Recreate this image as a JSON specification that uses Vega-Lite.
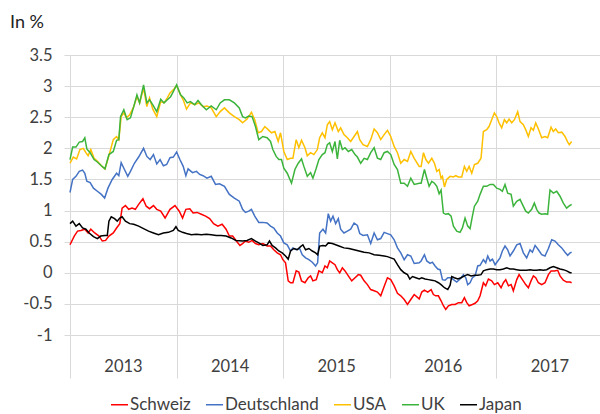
{
"$schema":"https://vega.github.io/schema/vega-lite/v6.json",
"width":530,"height":280,
"autosize":"none",
"padding":{"left":70,"top":55,"right":0,"bottom":79},
"config":{"font":"Lato","view":{"stroke":null}},
"title":{"text":"In %","anchor":"start","frame":"group","dx":-60,"offset":15,"fontSize":18,"fontWeight":"normal","font":"Lato","color":"#222222"},
"data":{"values":[
{"c":"Schweiz","t":2013.000,"v":0.45},{"c":"Schweiz","t":2013.040,"v":0.59},{"c":"Schweiz","t":2013.071,"v":0.67},{"c":"Schweiz","t":2013.102,"v":0.68},{"c":"Schweiz","t":2013.139,"v":0.70},{"c":"Schweiz","t":2013.170,"v":0.64},{"c":"Schweiz","t":2013.195,"v":0.70},{"c":"Schweiz","t":2013.232,"v":0.64},{"c":"Schweiz","t":2013.272,"v":0.59},{"c":"Schweiz","t":2013.303,"v":0.51},{"c":"Schweiz","t":2013.334,"v":0.52},{"c":"Schweiz","t":2013.365,"v":0.59},{"c":"Schweiz","t":2013.406,"v":0.64},{"c":"Schweiz","t":2013.437,"v":0.72},{"c":"Schweiz","t":2013.467,"v":0.79},{"c":"Schweiz","t":2013.489,"v":1.04},{"c":"Schweiz","t":2013.520,"v":1.08},{"c":"Schweiz","t":2013.551,"v":1.02},{"c":"Schweiz","t":2013.582,"v":1.04},{"c":"Schweiz","t":2013.613,"v":1.02},{"c":"Schweiz","t":2013.644,"v":1.10},{"c":"Schweiz","t":2013.684,"v":1.19},{"c":"Schweiz","t":2013.715,"v":1.07},{"c":"Schweiz","t":2013.746,"v":1.03},{"c":"Schweiz","t":2013.783,"v":1.08},{"c":"Schweiz","t":2013.814,"v":1.02},{"c":"Schweiz","t":2013.851,"v":0.99},{"c":"Schweiz","t":2013.892,"v":0.88},{"c":"Schweiz","t":2013.938,"v":1.02},{"c":"Schweiz","t":2013.985,"v":1.08},{"c":"Schweiz","t":2014.025,"v":0.99},{"c":"Schweiz","t":2014.056,"v":0.88},{"c":"Schweiz","t":2014.087,"v":1.02},{"c":"Schweiz","t":2014.124,"v":1.03},{"c":"Schweiz","t":2014.155,"v":0.96},{"c":"Schweiz","t":2014.192,"v":0.97},{"c":"Schweiz","t":2014.232,"v":0.94},{"c":"Schweiz","t":2014.272,"v":0.91},{"c":"Schweiz","t":2014.310,"v":0.87},{"c":"Schweiz","t":2014.347,"v":0.79},{"c":"Schweiz","t":2014.387,"v":0.75},{"c":"Schweiz","t":2014.427,"v":0.78},{"c":"Schweiz","t":2014.464,"v":0.70},{"c":"Schweiz","t":2014.495,"v":0.59},{"c":"Schweiz","t":2014.526,"v":0.59},{"c":"Schweiz","t":2014.557,"v":0.52},{"c":"Schweiz","t":2014.594,"v":0.44},{"c":"Schweiz","t":2014.619,"v":0.47},
{"c":"Schweiz","t":2014.646,"v":0.51},{"c":"Schweiz","t":2014.677,"v":0.49},{"c":"Schweiz","t":2014.708,"v":0.52},{"c":"Schweiz","t":2014.740,"v":0.47},{"c":"Schweiz","t":2014.771,"v":0.45},{"c":"Schweiz","t":2014.809,"v":0.47},{"c":"Schweiz","t":2014.849,"v":0.43},{"c":"Schweiz","t":2014.881,"v":0.43},{"c":"Schweiz","t":2014.912,"v":0.37},{"c":"Schweiz","t":2014.944,"v":0.32},{"c":"Schweiz","t":2014.975,"v":0.29},{"c":"Schweiz","t":2014.997,"v":0.21},{"c":"Schweiz","t":2015.022,"v":0.16},{"c":"Schweiz","t":2015.047,"v":-0.13},{"c":"Schweiz","t":2015.069,"v":-0.16},{"c":"Schweiz","t":2015.091,"v":-0.16},{"c":"Schweiz","t":2015.122,"v":0.03},{"c":"Schweiz","t":2015.147,"v":0.01},{"c":"Schweiz","t":2015.172,"v":-0.13},{"c":"Schweiz","t":2015.204,"v":-0.16},{"c":"Schweiz","t":2015.235,"v":-0.08},{"c":"Schweiz","t":2015.257,"v":-0.05},{"c":"Schweiz","t":2015.279,"v":-0.13},{"c":"Schweiz","t":2015.310,"v":-0.11},{"c":"Schweiz","t":2015.335,"v":0.03},{"c":"Schweiz","t":2015.367,"v":0.00},{"c":"Schweiz","t":2015.392,"v":0.11},{"c":"Schweiz","t":2015.414,"v":0.08},{"c":"Schweiz","t":2015.436,"v":0.19},{"c":"Schweiz","t":2015.461,"v":0.16},{"c":"Schweiz","t":2015.486,"v":0.13},{"c":"Schweiz","t":2015.508,"v":0.05},{"c":"Schweiz","t":2015.530,"v":0.00},{"c":"Schweiz","t":2015.555,"v":0.08},{"c":"Schweiz","t":2015.580,"v":0.03},{"c":"Schweiz","t":2015.611,"v":-0.05},{"c":"Schweiz","t":2015.643,"v":-0.13},{"c":"Schweiz","t":2015.674,"v":-0.08},{"c":"Schweiz","t":2015.705,"v":-0.03},{"c":"Schweiz","t":2015.727,"v":-0.04},{"c":"Schweiz","t":2015.759,"v":-0.13},{"c":"Schweiz","t":2015.790,"v":-0.19},{"c":"Schweiz","t":2015.821,"v":-0.27},{"c":"Schweiz","t":2015.853,"v":-0.29},{"c":"Schweiz","t":2015.884,"v":-0.31},{"c":"Schweiz","t":2015.915,"v":-0.37},{"c":"Schweiz","t":2015.947,"v":-0.22},{"c":"Schweiz","t":2015.978,"v":-0.08},{"c":"Schweiz","t":2016.009,"v":-0.11},{"c":"Schweiz","t":2016.041,"v":-0.21},{"c":"Schweiz","t":2016.072,"v":-0.33},{"c":"Schweiz","t":2016.103,"v":-0.37},{"c":"Schweiz","t":2016.135,"v":-0.43},{"c":"Schweiz","t":2016.166,"v":-0.51},{"c":"Schweiz","t":2016.197,"v":-0.43},{"c":"Schweiz","t":2016.229,"v":-0.35},{"c":"Schweiz","t":2016.276,"v":-0.42},
{"c":"Schweiz","t":2016.300,"v":-0.31},{"c":"Schweiz","t":2016.325,"v":-0.28},{"c":"Schweiz","t":2016.356,"v":-0.31},{"c":"Schweiz","t":2016.388,"v":-0.27},{"c":"Schweiz","t":2016.409,"v":-0.35},{"c":"Schweiz","t":2016.431,"v":-0.37},{"c":"Schweiz","t":2016.456,"v":-0.37},{"c":"Schweiz","t":2016.481,"v":-0.45},{"c":"Schweiz","t":2016.503,"v":-0.53},{"c":"Schweiz","t":2016.525,"v":-0.59},{"c":"Schweiz","t":2016.550,"v":-0.53},{"c":"Schweiz","t":2016.581,"v":-0.51},{"c":"Schweiz","t":2016.613,"v":-0.51},{"c":"Schweiz","t":2016.644,"v":-0.48},{"c":"Schweiz","t":2016.675,"v":-0.48},{"c":"Schweiz","t":2016.700,"v":-0.40},{"c":"Schweiz","t":2016.722,"v":-0.48},{"c":"Schweiz","t":2016.744,"v":-0.53},{"c":"Schweiz","t":2016.775,"v":-0.51},{"c":"Schweiz","t":2016.800,"v":-0.49},{"c":"Schweiz","t":2016.825,"v":-0.45},{"c":"Schweiz","t":2016.847,"v":-0.37},{"c":"Schweiz","t":2016.878,"v":-0.16},{"c":"Schweiz","t":2016.900,"v":-0.21},{"c":"Schweiz","t":2016.925,"v":-0.10},{"c":"Schweiz","t":2016.956,"v":-0.13},{"c":"Schweiz","t":2016.981,"v":-0.19},{"c":"Schweiz","t":2017.013,"v":-0.16},{"c":"Schweiz","t":2017.044,"v":-0.24},{"c":"Schweiz","t":2017.066,"v":-0.16},{"c":"Schweiz","t":2017.088,"v":-0.11},{"c":"Schweiz","t":2017.113,"v":-0.21},{"c":"Schweiz","t":2017.138,"v":-0.19},{"c":"Schweiz","t":2017.159,"v":-0.29},{"c":"Schweiz","t":2017.191,"v":-0.11},{"c":"Schweiz","t":2017.213,"v":-0.03},{"c":"Schweiz","t":2017.244,"v":-0.11},{"c":"Schweiz","t":2017.275,"v":-0.19},{"c":"Schweiz","t":2017.300,"v":-0.24},{"c":"Schweiz","t":2017.325,"v":-0.13},{"c":"Schweiz","t":2017.347,"v":-0.05},{"c":"Schweiz","t":2017.369,"v":-0.08},{"c":"Schweiz","t":2017.394,"v":-0.16},{"c":"Schweiz","t":2017.425,"v":-0.19},{"c":"Schweiz","t":2017.456,"v":-0.16},{"c":"Schweiz","t":2017.488,"v":-0.03},{"c":"Schweiz","t":2017.513,"v":0.03},{"c":"Schweiz","t":2017.544,"v":0.03},{"c":"Schweiz","t":2017.575,"v":0.04},{"c":"Schweiz","t":2017.597,"v":-0.05},{"c":"Schweiz","t":2017.628,"v":-0.12},{"c":"Schweiz","t":2017.659,"v":-0.15},{"c":"Schweiz","t":2017.691,"v":-0.15},{"c":"Schweiz","t":2017.706,"v":-0.16},
{"c":"Deutschland","t":2013.000,"v":1.29},{"c":"Deutschland","t":2013.025,"v":1.50},{"c":"Deutschland","t":2013.056,"v":1.55},{"c":"Deutschland","t":2013.087,"v":1.63},{"c":"Deutschland","t":2013.118,"v":1.65},{"c":"Deutschland","t":2013.139,"v":1.60},{"c":"Deutschland","t":2013.158,"v":1.47},{"c":"Deutschland","t":2013.189,"v":1.45},{"c":"Deutschland","t":2013.220,"v":1.36},{"c":"Deutschland","t":2013.257,"v":1.31},{"c":"Deutschland","t":2013.294,"v":1.26},{"c":"Deutschland","t":2013.325,"v":1.20},{"c":"Deutschland","t":2013.356,"v":1.36},{"c":"Deutschland","t":2013.396,"v":1.50},{"c":"Deutschland","t":2013.437,"v":1.60},{"c":"Deutschland","t":2013.458,"v":1.56},{"c":"Deutschland","t":2013.480,"v":1.77},{"c":"Deutschland","t":2013.511,"v":1.66},{"c":"Deutschland","t":2013.542,"v":1.55},{"c":"Deutschland","t":2013.567,"v":1.63},{"c":"Deutschland","t":2013.604,"v":1.76},{"c":"Deutschland","t":2013.644,"v":1.86},{"c":"Deutschland","t":2013.690,"v":2.00},{"c":"Deutschland","t":2013.721,"v":1.87},{"c":"Deutschland","t":2013.752,"v":1.82},{"c":"Deutschland","t":2013.783,"v":1.90},{"c":"Deutschland","t":2013.814,"v":1.75},{"c":"Deutschland","t":2013.845,"v":1.82},{"c":"Deutschland","t":2013.876,"v":1.72},{"c":"Deutschland","t":2013.907,"v":1.74},{"c":"Deutschland","t":2013.938,"v":1.85},{"c":"Deutschland","t":2013.969,"v":1.86},{"c":"Deutschland","t":2014.000,"v":1.94},{"c":"Deutschland","t":2014.031,"v":1.82},{"c":"Deutschland","t":2014.062,"v":1.71},{"c":"Deutschland","t":2014.087,"v":1.56},{"c":"Deutschland","t":2014.108,"v":1.67},{"c":"Deutschland","t":2014.149,"v":1.61},{"c":"Deutschland","t":2014.186,"v":1.63},{"c":"Deutschland","t":2014.217,"v":1.58},{"c":"Deutschland","t":2014.248,"v":1.56},{"c":"Deutschland","t":2014.285,"v":1.52},{"c":"Deutschland","t":2014.325,"v":1.55},{"c":"Deutschland","t":2014.365,"v":1.42},{"c":"Deutschland","t":2014.402,"v":1.43},{"c":"Deutschland","t":2014.449,"v":1.39},{"c":"Deutschland","t":2014.495,"v":1.26},{"c":"Deutschland","t":2014.542,"v":1.20},{"c":"Deutschland","t":2014.588,"v":1.15},{"c":"Deutschland","t":2014.619,"v":1.02},
{"c":"Deutschland","t":2014.646,"v":0.97},{"c":"Deutschland","t":2014.677,"v":0.99},{"c":"Deutschland","t":2014.702,"v":1.02},{"c":"Deutschland","t":2014.733,"v":0.91},{"c":"Deutschland","t":2014.771,"v":0.81},{"c":"Deutschland","t":2014.809,"v":0.81},{"c":"Deutschland","t":2014.849,"v":0.80},{"c":"Deutschland","t":2014.881,"v":0.75},{"c":"Deutschland","t":2014.912,"v":0.72},{"c":"Deutschland","t":2014.944,"v":0.64},{"c":"Deutschland","t":2014.975,"v":0.59},{"c":"Deutschland","t":2015.006,"v":0.48},{"c":"Deutschland","t":2015.038,"v":0.45},{"c":"Deutschland","t":2015.069,"v":0.35},{"c":"Deutschland","t":2015.091,"v":0.40},{"c":"Deutschland","t":2015.122,"v":0.37},{"c":"Deutschland","t":2015.154,"v":0.39},{"c":"Deutschland","t":2015.179,"v":0.29},{"c":"Deutschland","t":2015.210,"v":0.24},{"c":"Deutschland","t":2015.241,"v":0.21},{"c":"Deutschland","t":2015.273,"v":0.17},{"c":"Deutschland","t":2015.304,"v":0.11},{"c":"Deutschland","t":2015.323,"v":0.16},{"c":"Deutschland","t":2015.342,"v":0.64},{"c":"Deutschland","t":2015.373,"v":0.70},{"c":"Deutschland","t":2015.398,"v":0.64},{"c":"Deutschland","t":2015.423,"v":0.95},{"c":"Deutschland","t":2015.445,"v":0.83},{"c":"Deutschland","t":2015.467,"v":0.91},{"c":"Deutschland","t":2015.492,"v":0.79},{"c":"Deutschland","t":2015.517,"v":0.87},{"c":"Deutschland","t":2015.539,"v":0.70},{"c":"Deutschland","t":2015.570,"v":0.64},{"c":"Deutschland","t":2015.602,"v":0.67},{"c":"Deutschland","t":2015.633,"v":0.70},{"c":"Deutschland","t":2015.665,"v":0.80},{"c":"Deutschland","t":2015.696,"v":0.76},{"c":"Deutschland","t":2015.718,"v":0.63},{"c":"Deutschland","t":2015.749,"v":0.60},{"c":"Deutschland","t":2015.790,"v":0.61},{"c":"Deutschland","t":2015.821,"v":0.47},{"c":"Deutschland","t":2015.853,"v":0.64},{"c":"Deutschland","t":2015.884,"v":0.53},{"c":"Deutschland","t":2015.915,"v":0.55},{"c":"Deutschland","t":2015.947,"v":0.65},{"c":"Deutschland","t":2015.978,"v":0.63},{"c":"Deutschland","t":2016.009,"v":0.61},{"c":"Deutschland","t":2016.041,"v":0.53},{"c":"Deutschland","t":2016.072,"v":0.40},{"c":"Deutschland","t":2016.103,"v":0.32},{"c":"Deutschland","t":2016.135,"v":0.21},{"c":"Deutschland","t":2016.166,"v":0.29},{"c":"Deutschland","t":2016.197,"v":0.27},{"c":"Deutschland","t":2016.229,"v":0.15},{"c":"Deutschland","t":2016.276,"v":0.16},
{"c":"Deutschland","t":2016.294,"v":0.19},{"c":"Deutschland","t":2016.325,"v":0.29},{"c":"Deutschland","t":2016.347,"v":0.19},{"c":"Deutschland","t":2016.378,"v":0.15},{"c":"Deutschland","t":2016.400,"v":0.17},{"c":"Deutschland","t":2016.425,"v":0.11},{"c":"Deutschland","t":2016.450,"v":0.06},{"c":"Deutschland","t":2016.472,"v":0.05},{"c":"Deutschland","t":2016.494,"v":-0.11},{"c":"Deutschland","t":2016.519,"v":-0.12},{"c":"Deutschland","t":2016.544,"v":-0.08},{"c":"Deutschland","t":2016.575,"v":-0.08},{"c":"Deutschland","t":2016.597,"v":-0.11},{"c":"Deutschland","t":2016.628,"v":-0.15},{"c":"Deutschland","t":2016.659,"v":-0.10},{"c":"Deutschland","t":2016.691,"v":-0.03},{"c":"Deutschland","t":2016.713,"v":-0.08},{"c":"Deutschland","t":2016.731,"v":-0.19},{"c":"Deutschland","t":2016.753,"v":-0.16},{"c":"Deutschland","t":2016.775,"v":-0.08},{"c":"Deutschland","t":2016.800,"v":-0.05},{"c":"Deutschland","t":2016.825,"v":0.11},{"c":"Deutschland","t":2016.847,"v":0.12},{"c":"Deutschland","t":2016.878,"v":0.21},{"c":"Deutschland","t":2016.900,"v":0.16},{"c":"Deutschland","t":2016.919,"v":0.27},{"c":"Deutschland","t":2016.941,"v":0.19},{"c":"Deutschland","t":2016.963,"v":0.22},{"c":"Deutschland","t":2016.988,"v":0.13},{"c":"Deutschland","t":2017.013,"v":0.19},{"c":"Deutschland","t":2017.034,"v":0.24},{"c":"Deutschland","t":2017.056,"v":0.35},{"c":"Deutschland","t":2017.081,"v":0.43},{"c":"Deutschland","t":2017.106,"v":0.37},{"c":"Deutschland","t":2017.128,"v":0.27},{"c":"Deutschland","t":2017.159,"v":0.35},{"c":"Deutschland","t":2017.191,"v":0.45},{"c":"Deutschland","t":2017.222,"v":0.47},{"c":"Deutschland","t":2017.253,"v":0.32},{"c":"Deutschland","t":2017.284,"v":0.24},{"c":"Deutschland","t":2017.316,"v":0.37},{"c":"Deutschland","t":2017.338,"v":0.33},{"c":"Deutschland","t":2017.363,"v":0.44},{"c":"Deutschland","t":2017.394,"v":0.37},{"c":"Deutschland","t":2017.425,"v":0.29},{"c":"Deutschland","t":2017.456,"v":0.27},{"c":"Deutschland","t":2017.488,"v":0.39},{"c":"Deutschland","t":2017.519,"v":0.53},{"c":"Deutschland","t":2017.550,"v":0.51},{"c":"Deutschland","t":2017.581,"v":0.45},{"c":"Deutschland","t":2017.613,"v":0.40},{"c":"Deutschland","t":2017.644,"v":0.33},{"c":"Deutschland","t":2017.669,"v":0.28},{"c":"Deutschland","t":2017.691,"v":0.32},{"c":"Deutschland","t":2017.706,"v":0.33},
{"c":"USA","t":2013.000,"v":1.76},{"c":"USA","t":2013.031,"v":1.86},{"c":"USA","t":2013.062,"v":1.83},{"c":"USA","t":2013.093,"v":1.98},{"c":"USA","t":2013.124,"v":2.00},{"c":"USA","t":2013.149,"v":1.93},{"c":"USA","t":2013.170,"v":1.88},{"c":"USA","t":2013.195,"v":1.98},{"c":"USA","t":2013.226,"v":1.84},{"c":"USA","t":2013.257,"v":1.79},{"c":"USA","t":2013.294,"v":1.72},{"c":"USA","t":2013.328,"v":1.67},{"c":"USA","t":2013.365,"v":1.88},{"c":"USA","t":2013.406,"v":2.14},{"c":"USA","t":2013.437,"v":2.19},{"c":"USA","t":2013.458,"v":2.14},{"c":"USA","t":2013.480,"v":2.51},{"c":"USA","t":2013.505,"v":2.57},{"c":"USA","t":2013.529,"v":2.49},{"c":"USA","t":2013.560,"v":2.54},{"c":"USA","t":2013.598,"v":2.67},{"c":"USA","t":2013.628,"v":2.83},{"c":"USA","t":2013.653,"v":2.73},{"c":"USA","t":2013.690,"v":2.97},{"c":"USA","t":2013.721,"v":2.67},{"c":"USA","t":2013.746,"v":2.81},{"c":"USA","t":2013.777,"v":2.63},{"c":"USA","t":2013.814,"v":2.51},{"c":"USA","t":2013.851,"v":2.75},{"c":"USA","t":2013.882,"v":2.73},{"c":"USA","t":2013.913,"v":2.81},{"c":"USA","t":2013.938,"v":2.89},{"c":"USA","t":2013.969,"v":2.94},{"c":"USA","t":2014.000,"v":3.01},{"c":"USA","t":2014.037,"v":2.86},{"c":"USA","t":2014.062,"v":2.78},{"c":"USA","t":2014.093,"v":2.63},{"c":"USA","t":2014.130,"v":2.73},{"c":"USA","t":2014.170,"v":2.70},{"c":"USA","t":2014.211,"v":2.73},{"c":"USA","t":2014.248,"v":2.67},{"c":"USA","t":2014.285,"v":2.68},{"c":"USA","t":2014.325,"v":2.65},{"c":"USA","t":2014.372,"v":2.51},{"c":"USA","t":2014.409,"v":2.59},{"c":"USA","t":2014.449,"v":2.65},{"c":"USA","t":2014.495,"v":2.57},{"c":"USA","t":2014.542,"v":2.51},{"c":"USA","t":2014.588,"v":2.46},{"c":"USA","t":2014.619,"v":2.41},
{"c":"USA","t":2014.661,"v":2.47},{"c":"USA","t":2014.702,"v":2.58},{"c":"USA","t":2014.733,"v":2.46},{"c":"USA","t":2014.765,"v":2.25},{"c":"USA","t":2014.796,"v":2.27},{"c":"USA","t":2014.828,"v":2.35},{"c":"USA","t":2014.859,"v":2.30},{"c":"USA","t":2014.890,"v":2.25},{"c":"USA","t":2014.922,"v":2.27},{"c":"USA","t":2014.953,"v":2.11},{"c":"USA","t":2014.975,"v":2.25},{"c":"USA","t":2015.006,"v":1.95},{"c":"USA","t":2015.038,"v":1.82},{"c":"USA","t":2015.069,"v":1.84},{"c":"USA","t":2015.091,"v":1.84},{"c":"USA","t":2015.122,"v":2.14},{"c":"USA","t":2015.147,"v":2.01},{"c":"USA","t":2015.172,"v":2.13},{"c":"USA","t":2015.204,"v":2.01},{"c":"USA","t":2015.226,"v":1.88},{"c":"USA","t":2015.257,"v":1.93},{"c":"USA","t":2015.288,"v":1.90},{"c":"USA","t":2015.320,"v":1.98},{"c":"USA","t":2015.342,"v":2.17},{"c":"USA","t":2015.367,"v":2.25},{"c":"USA","t":2015.392,"v":2.17},{"c":"USA","t":2015.414,"v":2.38},{"c":"USA","t":2015.436,"v":2.43},{"c":"USA","t":2015.461,"v":2.30},{"c":"USA","t":2015.486,"v":2.41},{"c":"USA","t":2015.517,"v":2.27},{"c":"USA","t":2015.539,"v":2.33},{"c":"USA","t":2015.570,"v":2.22},{"c":"USA","t":2015.602,"v":2.17},{"c":"USA","t":2015.633,"v":2.11},{"c":"USA","t":2015.665,"v":2.19},{"c":"USA","t":2015.696,"v":2.27},{"c":"USA","t":2015.718,"v":2.14},{"c":"USA","t":2015.749,"v":2.06},{"c":"USA","t":2015.790,"v":2.03},{"c":"USA","t":2015.821,"v":2.14},{"c":"USA","t":2015.853,"v":2.31},{"c":"USA","t":2015.884,"v":2.25},{"c":"USA","t":2015.915,"v":2.14},{"c":"USA","t":2015.947,"v":2.22},{"c":"USA","t":2015.978,"v":2.29},{"c":"USA","t":2016.009,"v":2.19},{"c":"USA","t":2016.041,"v":2.03},{"c":"USA","t":2016.072,"v":1.93},{"c":"USA","t":2016.103,"v":1.76},{"c":"USA","t":2016.135,"v":1.82},{"c":"USA","t":2016.166,"v":1.79},{"c":"USA","t":2016.197,"v":1.95},{"c":"USA","t":2016.229,"v":1.84},{"c":"USA","t":2016.276,"v":1.71},
{"c":"USA","t":2016.294,"v":1.71},{"c":"USA","t":2016.316,"v":1.93},{"c":"USA","t":2016.338,"v":1.82},{"c":"USA","t":2016.363,"v":1.76},{"c":"USA","t":2016.394,"v":1.84},{"c":"USA","t":2016.419,"v":1.76},{"c":"USA","t":2016.441,"v":1.63},{"c":"USA","t":2016.463,"v":1.66},{"c":"USA","t":2016.481,"v":1.52},{"c":"USA","t":2016.494,"v":1.55},{"c":"USA","t":2016.513,"v":1.38},{"c":"USA","t":2016.534,"v":1.50},{"c":"USA","t":2016.566,"v":1.55},{"c":"USA","t":2016.597,"v":1.54},{"c":"USA","t":2016.619,"v":1.56},{"c":"USA","t":2016.644,"v":1.54},{"c":"USA","t":2016.675,"v":1.54},{"c":"USA","t":2016.700,"v":1.71},{"c":"USA","t":2016.722,"v":1.63},{"c":"USA","t":2016.744,"v":1.71},{"c":"USA","t":2016.769,"v":1.60},{"c":"USA","t":2016.794,"v":1.74},{"c":"USA","t":2016.825,"v":1.76},{"c":"USA","t":2016.856,"v":1.84},{"c":"USA","t":2016.878,"v":2.27},{"c":"USA","t":2016.909,"v":2.30},{"c":"USA","t":2016.931,"v":2.35},{"c":"USA","t":2016.956,"v":2.46},{"c":"USA","t":2016.981,"v":2.57},{"c":"USA","t":2017.003,"v":2.51},{"c":"USA","t":2017.025,"v":2.41},{"c":"USA","t":2017.050,"v":2.33},{"c":"USA","t":2017.075,"v":2.46},{"c":"USA","t":2017.097,"v":2.41},{"c":"USA","t":2017.119,"v":2.47},{"c":"USA","t":2017.144,"v":2.41},{"c":"USA","t":2017.169,"v":2.46},{"c":"USA","t":2017.200,"v":2.59},{"c":"USA","t":2017.222,"v":2.43},{"c":"USA","t":2017.253,"v":2.38},{"c":"USA","t":2017.275,"v":2.30},{"c":"USA","t":2017.300,"v":2.19},{"c":"USA","t":2017.325,"v":2.33},{"c":"USA","t":2017.347,"v":2.29},{"c":"USA","t":2017.369,"v":2.41},{"c":"USA","t":2017.394,"v":2.31},{"c":"USA","t":2017.425,"v":2.17},{"c":"USA","t":2017.456,"v":2.19},{"c":"USA","t":2017.481,"v":2.17},{"c":"USA","t":2017.513,"v":2.34},{"c":"USA","t":2017.534,"v":2.27},{"c":"USA","t":2017.556,"v":2.31},{"c":"USA","t":2017.581,"v":2.25},{"c":"USA","t":2017.613,"v":2.26},{"c":"USA","t":2017.644,"v":2.19},{"c":"USA","t":2017.669,"v":2.10},{"c":"USA","t":2017.684,"v":2.06},{"c":"USA","t":2017.706,"v":2.11},
{"c":"UK","t":2013.000,"v":1.82},{"c":"UK","t":2013.025,"v":2.02},{"c":"UK","t":2013.056,"v":2.02},{"c":"UK","t":2013.087,"v":2.10},{"c":"UK","t":2013.118,"v":2.11},{"c":"UK","t":2013.139,"v":2.17},{"c":"UK","t":2013.158,"v":1.99},{"c":"UK","t":2013.189,"v":1.93},{"c":"UK","t":2013.226,"v":1.82},{"c":"UK","t":2013.257,"v":1.78},{"c":"UK","t":2013.294,"v":1.72},{"c":"UK","t":2013.328,"v":1.67},{"c":"UK","t":2013.365,"v":1.90},{"c":"UK","t":2013.406,"v":1.95},{"c":"UK","t":2013.437,"v":2.13},{"c":"UK","t":2013.458,"v":2.14},{"c":"UK","t":2013.474,"v":2.51},{"c":"UK","t":2013.505,"v":2.62},{"c":"UK","t":2013.536,"v":2.46},{"c":"UK","t":2013.567,"v":2.49},{"c":"UK","t":2013.598,"v":2.67},{"c":"UK","t":2013.628,"v":2.86},{"c":"UK","t":2013.653,"v":2.73},{"c":"UK","t":2013.690,"v":3.02},{"c":"UK","t":2013.721,"v":2.73},{"c":"UK","t":2013.746,"v":2.78},{"c":"UK","t":2013.777,"v":2.70},{"c":"UK","t":2013.814,"v":2.59},{"c":"UK","t":2013.851,"v":2.79},{"c":"UK","t":2013.882,"v":2.73},{"c":"UK","t":2013.913,"v":2.78},{"c":"UK","t":2013.944,"v":2.83},{"c":"UK","t":2013.969,"v":2.91},{"c":"UK","t":2014.000,"v":3.02},{"c":"UK","t":2014.037,"v":2.86},{"c":"UK","t":2014.068,"v":2.81},{"c":"UK","t":2014.099,"v":2.73},{"c":"UK","t":2014.130,"v":2.75},{"c":"UK","t":2014.170,"v":2.70},{"c":"UK","t":2014.201,"v":2.77},{"c":"UK","t":2014.232,"v":2.70},{"c":"UK","t":2014.279,"v":2.62},{"c":"UK","t":2014.325,"v":2.68},{"c":"UK","t":2014.372,"v":2.62},{"c":"UK","t":2014.409,"v":2.73},{"c":"UK","t":2014.449,"v":2.78},{"c":"UK","t":2014.495,"v":2.78},{"c":"UK","t":2014.542,"v":2.73},{"c":"UK","t":2014.588,"v":2.65},{"c":"UK","t":2014.619,"v":2.51},
{"c":"UK","t":2014.646,"v":2.49},{"c":"UK","t":2014.677,"v":2.52},{"c":"UK","t":2014.708,"v":2.51},{"c":"UK","t":2014.740,"v":2.35},{"c":"UK","t":2014.771,"v":2.14},{"c":"UK","t":2014.809,"v":2.19},{"c":"UK","t":2014.849,"v":2.17},{"c":"UK","t":2014.881,"v":2.11},{"c":"UK","t":2014.903,"v":1.98},{"c":"UK","t":2014.934,"v":1.87},{"c":"UK","t":2014.959,"v":1.82},{"c":"UK","t":2014.984,"v":1.82},{"c":"UK","t":2015.006,"v":1.68},{"c":"UK","t":2015.038,"v":1.60},{"c":"UK","t":2015.078,"v":1.44},{"c":"UK","t":2015.110,"v":1.66},{"c":"UK","t":2015.141,"v":1.76},{"c":"UK","t":2015.172,"v":1.83},{"c":"UK","t":2015.194,"v":1.71},{"c":"UK","t":2015.226,"v":1.55},{"c":"UK","t":2015.257,"v":1.61},{"c":"UK","t":2015.279,"v":1.52},{"c":"UK","t":2015.310,"v":1.68},{"c":"UK","t":2015.335,"v":1.82},{"c":"UK","t":2015.367,"v":1.90},{"c":"UK","t":2015.392,"v":1.93},{"c":"UK","t":2015.414,"v":2.06},{"c":"UK","t":2015.436,"v":2.09},{"c":"UK","t":2015.461,"v":1.95},{"c":"UK","t":2015.486,"v":2.11},{"c":"UK","t":2015.508,"v":1.83},{"c":"UK","t":2015.530,"v":2.13},{"c":"UK","t":2015.555,"v":1.98},{"c":"UK","t":2015.580,"v":2.01},{"c":"UK","t":2015.611,"v":1.95},{"c":"UK","t":2015.643,"v":1.98},{"c":"UK","t":2015.674,"v":1.90},{"c":"UK","t":2015.696,"v":1.86},{"c":"UK","t":2015.727,"v":1.76},{"c":"UK","t":2015.759,"v":1.84},{"c":"UK","t":2015.790,"v":1.82},{"c":"UK","t":2015.821,"v":1.93},{"c":"UK","t":2015.853,"v":2.01},{"c":"UK","t":2015.884,"v":1.84},{"c":"UK","t":2015.915,"v":1.82},{"c":"UK","t":2015.947,"v":1.93},{"c":"UK","t":2015.978,"v":1.95},{"c":"UK","t":2016.009,"v":1.90},{"c":"UK","t":2016.041,"v":1.74},{"c":"UK","t":2016.072,"v":1.66},{"c":"UK","t":2016.103,"v":1.44},{"c":"UK","t":2016.135,"v":1.44},{"c":"UK","t":2016.166,"v":1.39},{"c":"UK","t":2016.197,"v":1.52},{"c":"UK","t":2016.229,"v":1.42},{"c":"UK","t":2016.276,"v":1.44},
{"c":"UK","t":2016.294,"v":1.44},{"c":"UK","t":2016.325,"v":1.66},{"c":"UK","t":2016.347,"v":1.52},{"c":"UK","t":2016.369,"v":1.39},{"c":"UK","t":2016.394,"v":1.47},{"c":"UK","t":2016.419,"v":1.44},{"c":"UK","t":2016.441,"v":1.39},{"c":"UK","t":2016.463,"v":1.27},{"c":"UK","t":2016.481,"v":1.33},{"c":"UK","t":2016.503,"v":0.96},{"c":"UK","t":2016.525,"v":0.94},{"c":"UK","t":2016.550,"v":0.95},{"c":"UK","t":2016.575,"v":0.91},{"c":"UK","t":2016.597,"v":0.75},{"c":"UK","t":2016.628,"v":0.67},{"c":"UK","t":2016.659,"v":0.65},{"c":"UK","t":2016.681,"v":0.72},{"c":"UK","t":2016.706,"v":0.88},{"c":"UK","t":2016.731,"v":0.75},{"c":"UK","t":2016.753,"v":0.71},{"c":"UK","t":2016.775,"v":0.91},{"c":"UK","t":2016.794,"v":1.07},{"c":"UK","t":2016.825,"v":1.15},{"c":"UK","t":2016.847,"v":1.26},{"c":"UK","t":2016.878,"v":1.39},{"c":"UK","t":2016.909,"v":1.39},{"c":"UK","t":2016.941,"v":1.42},{"c":"UK","t":2016.972,"v":1.42},{"c":"UK","t":2017.003,"v":1.36},{"c":"UK","t":2017.034,"v":1.34},{"c":"UK","t":2017.056,"v":1.31},{"c":"UK","t":2017.081,"v":1.42},{"c":"UK","t":2017.106,"v":1.28},{"c":"UK","t":2017.138,"v":1.26},{"c":"UK","t":2017.159,"v":1.07},{"c":"UK","t":2017.191,"v":1.15},{"c":"UK","t":2017.222,"v":1.18},{"c":"UK","t":2017.244,"v":1.10},{"c":"UK","t":2017.275,"v":0.99},{"c":"UK","t":2017.300,"v":0.96},{"c":"UK","t":2017.331,"v":1.02},{"c":"UK","t":2017.356,"v":1.12},{"c":"UK","t":2017.378,"v":1.02},{"c":"UK","t":2017.400,"v":0.96},{"c":"UK","t":2017.425,"v":0.94},{"c":"UK","t":2017.456,"v":0.95},{"c":"UK","t":2017.481,"v":0.94},{"c":"UK","t":2017.503,"v":1.33},{"c":"UK","t":2017.534,"v":1.28},{"c":"UK","t":2017.566,"v":1.31},{"c":"UK","t":2017.597,"v":1.23},{"c":"UK","t":2017.628,"v":1.12},{"c":"UK","t":2017.659,"v":1.04},{"c":"UK","t":2017.681,"v":1.07},{"c":"UK","t":2017.706,"v":1.10},
{"c":"Japan","t":2013.000,"v":0.79},{"c":"Japan","t":2013.025,"v":0.83},{"c":"Japan","t":2013.056,"v":0.75},{"c":"Japan","t":2013.087,"v":0.79},{"c":"Japan","t":2013.118,"v":0.72},{"c":"Japan","t":2013.149,"v":0.70},{"c":"Japan","t":2013.180,"v":0.64},{"c":"Japan","t":2013.220,"v":0.58},{"c":"Japan","t":2013.257,"v":0.55},{"c":"Japan","t":2013.288,"v":0.59},{"c":"Japan","t":2013.325,"v":0.60},{"c":"Japan","t":2013.350,"v":0.60},{"c":"Japan","t":2013.365,"v":0.83},{"c":"Japan","t":2013.387,"v":0.90},{"c":"Japan","t":2013.418,"v":0.87},{"c":"Japan","t":2013.443,"v":0.83},{"c":"Japan","t":2013.467,"v":0.88},{"c":"Japan","t":2013.489,"v":0.90},{"c":"Japan","t":2013.520,"v":0.83},{"c":"Japan","t":2013.560,"v":0.79},{"c":"Japan","t":2013.598,"v":0.78},{"c":"Japan","t":2013.644,"v":0.75},{"c":"Japan","t":2013.690,"v":0.71},{"c":"Japan","t":2013.737,"v":0.67},{"c":"Japan","t":2013.783,"v":0.64},{"c":"Japan","t":2013.830,"v":0.61},{"c":"Japan","t":2013.876,"v":0.64},{"c":"Japan","t":2013.923,"v":0.65},{"c":"Japan","t":2013.969,"v":0.68},{"c":"Japan","t":2013.994,"v":0.74},{"c":"Japan","t":2014.015,"v":0.68},{"c":"Japan","t":2014.056,"v":0.65},{"c":"Japan","t":2014.093,"v":0.63},{"c":"Japan","t":2014.139,"v":0.61},{"c":"Japan","t":2014.186,"v":0.62},{"c":"Japan","t":2014.232,"v":0.61},{"c":"Japan","t":2014.279,"v":0.62},{"c":"Japan","t":2014.325,"v":0.61},{"c":"Japan","t":2014.372,"v":0.60},{"c":"Japan","t":2014.418,"v":0.60},{"c":"Japan","t":2014.464,"v":0.59},{"c":"Japan","t":2014.511,"v":0.56},{"c":"Japan","t":2014.557,"v":0.52},{"c":"Japan","t":2014.619,"v":0.51},
{"c":"Japan","t":2014.661,"v":0.52},{"c":"Japan","t":2014.702,"v":0.55},{"c":"Japan","t":2014.740,"v":0.51},{"c":"Japan","t":2014.771,"v":0.48},{"c":"Japan","t":2014.809,"v":0.44},{"c":"Japan","t":2014.849,"v":0.45},{"c":"Japan","t":2014.871,"v":0.51},{"c":"Japan","t":2014.896,"v":0.44},{"c":"Japan","t":2014.928,"v":0.40},{"c":"Japan","t":2014.959,"v":0.35},{"c":"Japan","t":2014.991,"v":0.32},{"c":"Japan","t":2015.022,"v":0.27},{"c":"Japan","t":2015.047,"v":0.22},{"c":"Japan","t":2015.069,"v":0.35},{"c":"Japan","t":2015.100,"v":0.39},{"c":"Japan","t":2015.132,"v":0.37},{"c":"Japan","t":2015.163,"v":0.42},{"c":"Japan","t":2015.185,"v":0.45},{"c":"Japan","t":2015.210,"v":0.37},{"c":"Japan","t":2015.241,"v":0.39},{"c":"Japan","t":2015.273,"v":0.35},{"c":"Japan","t":2015.304,"v":0.32},{"c":"Japan","t":2015.323,"v":0.29},{"c":"Japan","t":2015.342,"v":0.43},{"c":"Japan","t":2015.373,"v":0.44},{"c":"Japan","t":2015.398,"v":0.43},{"c":"Japan","t":2015.423,"v":0.48},{"c":"Japan","t":2015.461,"v":0.47},{"c":"Japan","t":2015.492,"v":0.45},{"c":"Japan","t":2015.523,"v":0.43},{"c":"Japan","t":2015.570,"v":0.40},{"c":"Japan","t":2015.617,"v":0.39},{"c":"Japan","t":2015.665,"v":0.37},{"c":"Japan","t":2015.712,"v":0.35},{"c":"Japan","t":2015.759,"v":0.33},{"c":"Japan","t":2015.806,"v":0.32},{"c":"Japan","t":2015.853,"v":0.29},{"c":"Japan","t":2015.900,"v":0.28},{"c":"Japan","t":2015.947,"v":0.27},{"c":"Japan","t":2015.978,"v":0.26},{"c":"Japan","t":2016.009,"v":0.24},{"c":"Japan","t":2016.041,"v":0.22},{"c":"Japan","t":2016.072,"v":0.13},{"c":"Japan","t":2016.103,"v":0.05},{"c":"Japan","t":2016.135,"v":0.00},{"c":"Japan","t":2016.166,"v":-0.03},{"c":"Japan","t":2016.188,"v":-0.10},{"c":"Japan","t":2016.213,"v":-0.06},{"c":"Japan","t":2016.244,"v":-0.08},{"c":"Japan","t":2016.276,"v":-0.10},
{"c":"Japan","t":2016.300,"v":-0.08},{"c":"Japan","t":2016.331,"v":-0.10},{"c":"Japan","t":2016.363,"v":-0.11},{"c":"Japan","t":2016.394,"v":-0.12},{"c":"Japan","t":2016.425,"v":-0.13},{"c":"Japan","t":2016.456,"v":-0.16},{"c":"Japan","t":2016.481,"v":-0.19},{"c":"Japan","t":2016.513,"v":-0.24},{"c":"Japan","t":2016.544,"v":-0.27},{"c":"Japan","t":2016.566,"v":-0.20},{"c":"Japan","t":2016.581,"v":-0.06},{"c":"Japan","t":2016.606,"v":-0.08},{"c":"Japan","t":2016.638,"v":-0.10},{"c":"Japan","t":2016.669,"v":-0.08},{"c":"Japan","t":2016.700,"v":-0.05},{"c":"Japan","t":2016.731,"v":-0.03},{"c":"Japan","t":2016.763,"v":-0.05},{"c":"Japan","t":2016.794,"v":-0.04},{"c":"Japan","t":2016.825,"v":-0.04},{"c":"Japan","t":2016.856,"v":-0.03},{"c":"Japan","t":2016.878,"v":0.03},{"c":"Japan","t":2016.909,"v":0.05},{"c":"Japan","t":2016.941,"v":0.06},{"c":"Japan","t":2016.972,"v":0.06},{"c":"Japan","t":2017.003,"v":0.05},{"c":"Japan","t":2017.034,"v":0.05},{"c":"Japan","t":2017.066,"v":0.06},{"c":"Japan","t":2017.097,"v":0.08},{"c":"Japan","t":2017.128,"v":0.06},{"c":"Japan","t":2017.159,"v":0.06},{"c":"Japan","t":2017.191,"v":0.05},{"c":"Japan","t":2017.222,"v":0.04},{"c":"Japan","t":2017.253,"v":0.04},{"c":"Japan","t":2017.284,"v":0.04},{"c":"Japan","t":2017.316,"v":0.05},{"c":"Japan","t":2017.347,"v":0.04},{"c":"Japan","t":2017.378,"v":0.04},{"c":"Japan","t":2017.409,"v":0.05},{"c":"Japan","t":2017.440,"v":0.04},{"c":"Japan","t":2017.472,"v":0.05},{"c":"Japan","t":2017.503,"v":0.08},{"c":"Japan","t":2017.534,"v":0.10},{"c":"Japan","t":2017.566,"v":0.08},{"c":"Japan","t":2017.597,"v":0.06},{"c":"Japan","t":2017.628,"v":0.05},{"c":"Japan","t":2017.659,"v":0.03},{"c":"Japan","t":2017.691,"v":0.00},{"c":"Japan","t":2017.706,"v":0.00}
]},
"mark":{"type":"line","strokeWidth":1.5},
"encoding":{
"x":{"field":"t","type":"quantitative","scale":{"domain":[2013,2017.972],"nice":false,"zero":false},
"axis":{"title":null,"values":[2013,2014,2015,2016,2017],"format":"d","grid":true,"gridColor":"#d9d9d9","tickColor":"#d9d9d9","tickSize":43,"domain":false,"labelOffset":53,"labelPadding":-20,"labelFontSize":16.5,"labelColor":"#404040","labelFont":"Lato","labelOverlap":false,"labelFlush":false}},
"y":{"field":"v","type":"quantitative","scale":{"domain":[-1,3.5],"nice":false,"zero":false},
"axis":{"title":null,"values":[-1,-0.5,0,0.5,1,1.5,2,2.5,3,3.5],"labelExpr":"datum.value + ''","grid":true,"gridColor":"#d9d9d9","tickColor":"#d9d9d9","tickSize":6,"domain":false,"labelPadding":12,"labelFontSize":16.5,"labelColor":"#404040","labelFont":"Lato"}},
"color":{"field":"c","type":"nominal","scale":{"domain":["Schweiz","Deutschland","USA","UK","Japan"],"range":["#FF0000","#4472C4","#FFC000","#3CB43C","#000000"]},
"legend":{"orient":"none","legendX":40,"legendY":340,"direction":"horizontal","title":null,"symbolType":"stroke","symbolSize":289,"symbolStrokeWidth":1.5,"labelFontSize":17,"labelColor":"#404040","labelFont":"Lato","labelOffset":1,"columnPadding":12}}
}
}
